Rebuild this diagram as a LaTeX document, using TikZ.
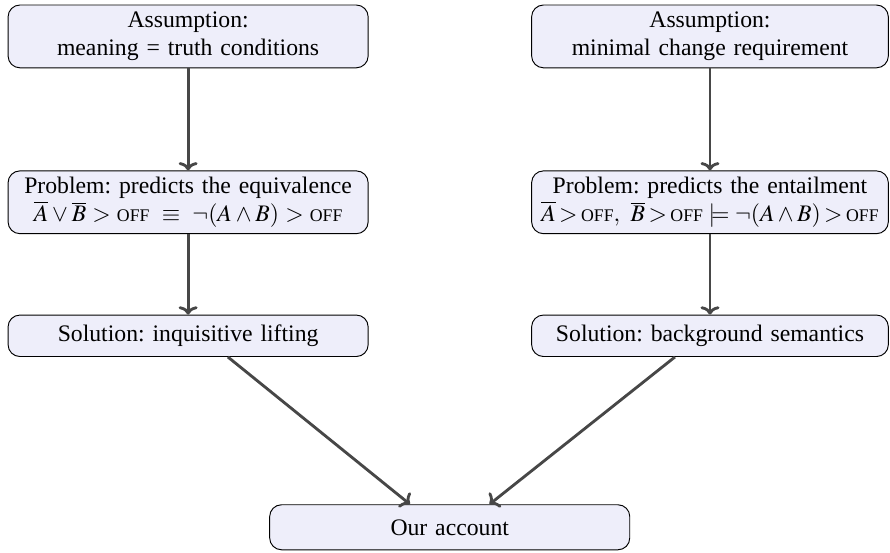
\documentclass[tikz,border=0pt]{standalone}
\usepackage{mathptmx}
\usepackage{fontspec}
\setmainfont{Liberation Serif}
\usepackage{tikz}
\usetikzlibrary{arrows,arrows.meta,positioning}
\definecolor{boxfill}{RGB}{238,238,250}
\newcommand{\off}{\mbox{\fontsize{7.5}{8}\selectfont OFF}}
\frenchspacing
\tikzset{
    claim/.style={
           rectangle,
           rounded corners=5pt,
           draw=black, thin,
           fill=boxfill,
           minimum height=17.5pt,
           inner sep=2pt,
           text width=5.2cm,
           text centered,
           },
    link/.style={
           ->, >={To[length=3.5pt,width=8pt]}, black!72, line width=1.2pt,
           },
}

\begin{document}
\begin{tikzpicture}
 \useasboundingbox (0,0) rectangle (13.2,-8.19);

 % the two assumptions
 \node[claim,
  minimum height=26.5pt,
  anchor=center] (Meaning) at (2.79,-0.54)
 {Assumption:\\meaning = truth conditions};

 \node[claim,
  right of=Meaning,
  node distance=7.74cm,
  minimum height=26.5pt,
  text width=5.15cm,
  anchor=center] (Change)
 {Assumption:\\minimal change requirement};

 % the problems they lead to
 \node[claim,
  below of=Meaning,
  node distance=2.46cm,
  minimum height=26.5pt,
  anchor=center] (Equivalence)
 {Problem: predicts the equivalence\\
  $\overline{A}\vee\overline{B} > \off \;\equiv\; \neg(A\wedge B) > \off$};

 \node[claim,
  below of=Change,
  node distance=2.46cm,
  minimum height=26.5pt,
  text width=5.15cm,
  anchor=center] (Entailment)
 {Problem: predicts the entailment\\
  $\overline{A}\mathbin{>}\off,\ \overline{B}\mathbin{>}\off\models\neg(A\wedge B)\mathbin{>}\off$};

 % the solutions
 \node[claim,
  below of=Equivalence,
  node distance=1.98cm,
  anchor=center] (Lifting)
 {Solution: inquisitive lifting};

 \node[claim,
  below of=Entailment,
  node distance=1.98cm,
  text width=5.15cm,
  anchor=center] (Background)
 {Solution: background semantics};

 \node[claim,
  minimum height=19pt,
  anchor=center] (Account) at (6.67,-7.82)
 {Our account};

 % connections
 \draw[link] (Meaning) -- (Equivalence);
 \draw[link] (Equivalence) -- (Lifting);
 \draw[link] (Change) -- (Entailment);
 \draw[link] (Entailment) -- (Background);
 \draw[link] ([xshift=0.59cm]Lifting.south) -- ([xshift=-0.59cm]Account.north);
 \draw[link] ([xshift=-0.52cm]Background.south) -- ([xshift=0.59cm]Account.north);

\end{tikzpicture}
\end{document}
